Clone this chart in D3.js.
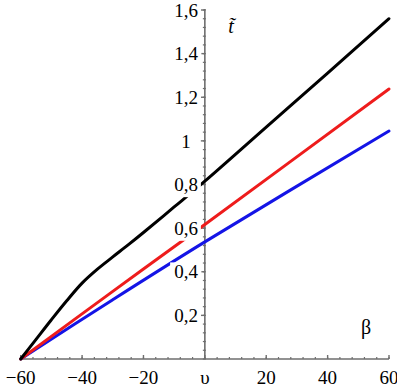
<!DOCTYPE html>
<html>
<head>
<meta charset="utf-8">
<script src="https://cdn.jsdelivr.net/npm/d3@7"></script>
<style>
  body { margin: 0; background: #fff; }
  svg { display: block; }
  svg text { font-family: "Liberation Serif", "Times New Roman", "DejaVu Serif", serif; }
</style>
</head>
<body>
<div id="chart"></div>
<script>
// data
var betaBlack = [-60, -55, -50, -45, -40, -35, -30, -25, -20, -10, 0, 20, 40, 60];
var tBlack    = [0, 0.09, 0.18, 0.267, 0.348, 0.412, 0.468, 0.523, 0.58, 0.697, 0.815, 1.063, 1.311, 1.56];
var betaRed   = [-60, -30, 0, 60];
var tRed      = [0, 0.31, 0.617, 1.238];
var betaBlue  = [-60, -30, 0, 60];
var tBlue     = [0, 0.272, 0.537, 1.045];

var xTicks = [-60, -40, -20, 0, 20, 40, 60];
var xTickLabels = ["\u221260", "\u221240", "\u221220", "\u03c5", "20", "40", "60"];
var yTicks = [0.2, 0.4, 0.6, 0.8, 1, 1.2, 1.4, 1.6];
var yTickLabels = ["0,2", "0,4", "0,6", "0,8", "1", "1,2", "1,4", "1,6"];

var width = 397, height = 388;

var svg = d3.select("#chart").append("svg")
    .attr("width", width)
    .attr("height", height);

var x = d3.scaleLinear().domain([-60, 60]).range([20.7, 389]);
var y = d3.scaleLinear().domain([0, 1.6]).range([359, 10]);

var axisColor = "#6e6e6e";

// minor ticks
var xMinor = d3.range(-60, 60.01, 4);
var yMinor = d3.range(0, 1.601, 0.04);

// x axis
svg.append("line")
    .attr("x1", x(-60)).attr("x2", x(60))
    .attr("y1", y(0)).attr("y2", y(0))
    .attr("stroke", axisColor).attr("stroke-width", 1.6);

svg.selectAll(".xminor")
    .data(xMinor)
    .enter().append("line")
    .attr("x1", function (d) { return x(d); })
    .attr("x2", function (d) { return x(d); })
    .attr("y1", y(0) - 2).attr("y2", y(0))
    .attr("stroke", axisColor).attr("stroke-width", 1.2);

svg.selectAll(".xmajor")
    .data(xTicks)
    .enter().append("line")
    .attr("x1", function (d) { return x(d); })
    .attr("x2", function (d) { return x(d); })
    .attr("y1", y(0) - 4).attr("y2", y(0))
    .attr("stroke", axisColor).attr("stroke-width", 1.4);

// y axis
svg.append("line")
    .attr("x1", x(0)).attr("x2", x(0))
    .attr("y1", y(0)).attr("y2", y(1.6) - 1)
    .attr("stroke", axisColor).attr("stroke-width", 1.6);

svg.selectAll(".yminor")
    .data(yMinor)
    .enter().append("line")
    .attr("x1", x(0) - 2).attr("x2", x(0) + 1)
    .attr("y1", function (d) { return y(d); })
    .attr("y2", function (d) { return y(d); })
    .attr("stroke", axisColor).attr("stroke-width", 1.2);

svg.selectAll(".ymajor")
    .data(yTicks)
    .enter().append("line")
    .attr("x1", x(0) - 4).attr("x2", x(0))
    .attr("y1", function (d) { return y(d); })
    .attr("y2", function (d) { return y(d); })
    .attr("stroke", axisColor).attr("stroke-width", 1.4);

// curves
var line = d3.line()
    .x(function (d) { return x(d[0]); })
    .y(function (d) { return y(d[1]); })
    .curve(d3.curveCatmullRom.alpha(0.5));

var series = [
    { b: betaBlue, t: tBlue, color: "#1414e6" },
    { b: betaRed, t: tRed, color: "#ee1c1c" },
    { b: betaBlack, t: tBlack, color: "#000" }
];

series.forEach(function (s) {
    svg.append("path")
        .datum(d3.zip(s.b, s.t))
        .attr("fill", "none")
        .attr("stroke", s.color)
        .attr("stroke-width", 3)
        .attr("stroke-linecap", "round")
        .attr("d", line);
});

// y tick labels (white boxes hide the lines behind them)
var yLab = svg.selectAll(".ylab")
    .data(yTicks)
    .enter().append("g")
    .attr("transform", function (d) { return "translate(186," + y(d) + ")"; });

yLab.append("rect");
yLab.append("text")
    .attr("text-anchor", "middle")
    .attr("dy", "0.35em")
    .attr("font-size", 19)
    .text(function (d, i) { return yTickLabels[i]; });

yLab.each(function () {
    var g = d3.select(this);
    var bb = g.select("text").node().getBBox();
    g.select("rect")
        .attr("x", bb.x - 4).attr("y", bb.y + 1)
        .attr("width", bb.width + 7).attr("height", bb.height + 1)
        .attr("fill", "#fff");
});

// x tick labels
svg.selectAll(".xlab")
    .data(xTicks)
    .enter().append("text")
    .attr("x", function (d) { return x(d); })
    .attr("y", 384)
    .attr("text-anchor", "middle")
    .attr("font-size", 19)
    .text(function (d, i) { return xTickLabels[i]; });

// axis names
svg.append("text")
    .attr("x", 366).attr("y", 334)
    .attr("text-anchor", "middle")
    .attr("font-size", 20)
    .text("\u03b2");

svg.append("text")
    .attr("x", 231).attr("y", 33)
    .attr("text-anchor", "middle")
    .attr("font-size", 20)
    .attr("font-style", "italic")
    .text("t\u0303");
</script>
</body>
</html>
